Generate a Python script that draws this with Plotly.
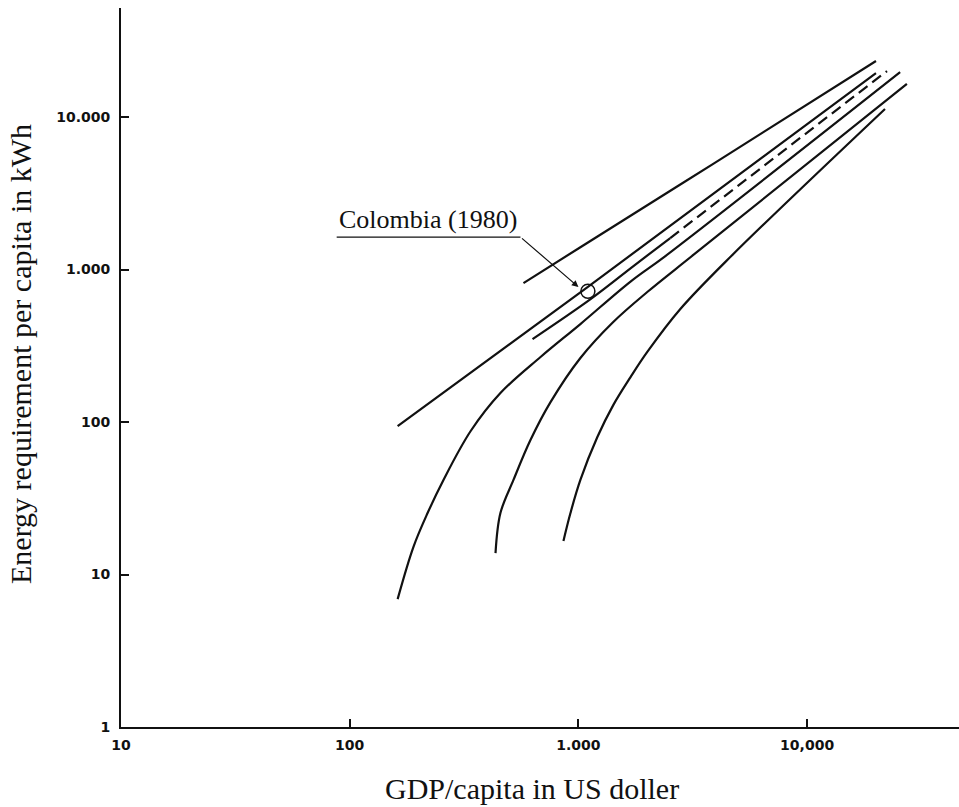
import numpy as np
import plotly.graph_objects as go

# ---------------- data ----------------
# upper straight line
l1_gdp = [575, 1020, 3900, 20000]
l1_energy = [815, 1400, 4950, 23300]

# line passing through Colombia (1980)
l2_gdp = [162, 1100, 20000]
l2_energy = [94, 770, 19400]

# short solid line that continues dashed
l3_gdp = [630, 1130, 1740, 2520]
l3_energy = [350, 640, 1054, 1609]
l3_dash_gdp = [2520, 22350]
l3_dash_energy = [1609, 20030]

# curved lines
d_gdp = [162, 190, 219, 257, 338, 456, 683, 1020, 1690, 2400, 25500]
d_energy = [6.9, 15.2, 25.3, 41.7, 87.3, 155, 267, 439, 834, 1226, 19700]

e_gdp = [434, 456, 520, 617, 755, 1020, 1420, 2000, 3210, 27300]
e_energy = [13.8, 25.3, 41.7, 76.2, 135, 263, 453, 712, 1260, 16500]

f_gdp = [860, 923, 1020, 1210, 1420, 1690, 2000, 2790, 4660, 21900]
f_energy = [16.6, 25.3, 41.7, 79.7, 129, 197, 288, 551, 1226, 11300]

# Colombia point and its label / leader
colombia_gdp = 1100
colombia_energy = 720
colombia_label = "Colombia (1980)"
label_gdp, label_energy = 221, 2140
leader_gdp = [87.7, 558]
leader_energy = [1633, 1633]
arrow_tip_gdp, arrow_tip_energy = 1000, 768

x_tickvals = [10, 100, 1000, 10000]
x_ticktext = ["10", "100", "1.000", "10,000"]
y_tickvals = [1, 10, 100, 1000, 10000]
y_ticktext = ["1", "10", "100", "1.000", "10.000"]

x_title = "GDP/capita in US doller"
y_title = "Energy requirement per capita in kWh"

# ---------------- figure ----------------
INK = "#111111"
LW = 2.2
fig = go.Figure()

def add_line(x, y, shape="linear", dash="solid", width=LW):
    fig.add_trace(go.Scatter(x=x, y=y, mode="lines",
                             line=dict(color=INK, width=width, shape=shape, dash=dash,
                                       smoothing=1.0),
                             hoverinfo="skip"))

add_line(l1_gdp, l1_energy, shape="spline")
add_line(l2_gdp, l2_energy, shape="spline")
add_line(l3_gdp, l3_energy, shape="spline")
add_line(l3_dash_gdp, l3_dash_energy, dash="11px,6px")
add_line(d_gdp, d_energy, shape="spline")
add_line(e_gdp, e_energy, shape="spline")
add_line(f_gdp, f_energy, shape="spline")

# underline of label
add_line(leader_gdp, leader_energy, width=1.2)

# Colombia marker
fig.add_trace(go.Scatter(x=[colombia_gdp], y=[colombia_energy], mode="markers",
                         marker=dict(symbol="circle-open", size=14,
                                     line=dict(color=INK, width=1.5), color=INK),
                         hoverinfo="skip"))

# leader arrow
fig.add_annotation(x=np.log10(arrow_tip_gdp), y=np.log10(arrow_tip_energy),
                   ax=np.log10(leader_gdp[1]), ay=np.log10(leader_energy[1]),
                   xref="x", yref="y", axref="x", ayref="y",
                   text="", showarrow=True, arrowhead=2, arrowsize=1.1,
                   arrowwidth=1.2, arrowcolor=INK, standoff=0)

fig.add_annotation(x=np.log10(label_gdp), y=np.log10(label_energy), xref="x", yref="y",
                   text=colombia_label, showarrow=False,
                   font=dict(family="Liberation Serif", size=26, color=INK),
                   xanchor="center", yanchor="middle")

# axis titles
fig.add_annotation(x=0.4905, y=-0.0862, xref="paper", yref="paper", text=x_title,
                   showarrow=False, xanchor="center", yanchor="middle",
                   font=dict(family="Liberation Serif", size=30, color=INK))
fig.add_annotation(x=-0.1193, y=0.5188, xref="paper", yref="paper", text=y_title,
                   showarrow=False, xanchor="center", yanchor="middle", textangle=-90,
                   font=dict(family="Liberation Serif", size=30, color=INK))

tickfont = dict(family="DejaVu Sans", size=14, color=INK, weight="bold")
fig.update_xaxes(type="log", range=[1, 4.664], showline=True, linecolor=INK, linewidth=2,
                 ticks="inside", ticklen=8, tickwidth=1.5, tickcolor=INK,
                 tickvals=x_tickvals, ticktext=x_ticktext, tickfont=tickfont,
                 showgrid=False, zeroline=False, ticklabelstandoff=4)
fig.update_yaxes(type="log", range=[0, 4.715], showline=True, linecolor=INK, linewidth=2,
                 ticks="inside", ticklen=8, tickwidth=1.5, tickcolor=INK,
                 tickvals=y_tickvals, ticktext=y_ticktext, tickfont=tickfont,
                 showgrid=False, zeroline=False, ticklabelstandoff=6)

fig.update_layout(width=959, height=807, margin=dict(l=121, r=0, t=8, b=80),
                  plot_bgcolor="white", paper_bgcolor="white", showlegend=False)

fig.write_html("out.html")
